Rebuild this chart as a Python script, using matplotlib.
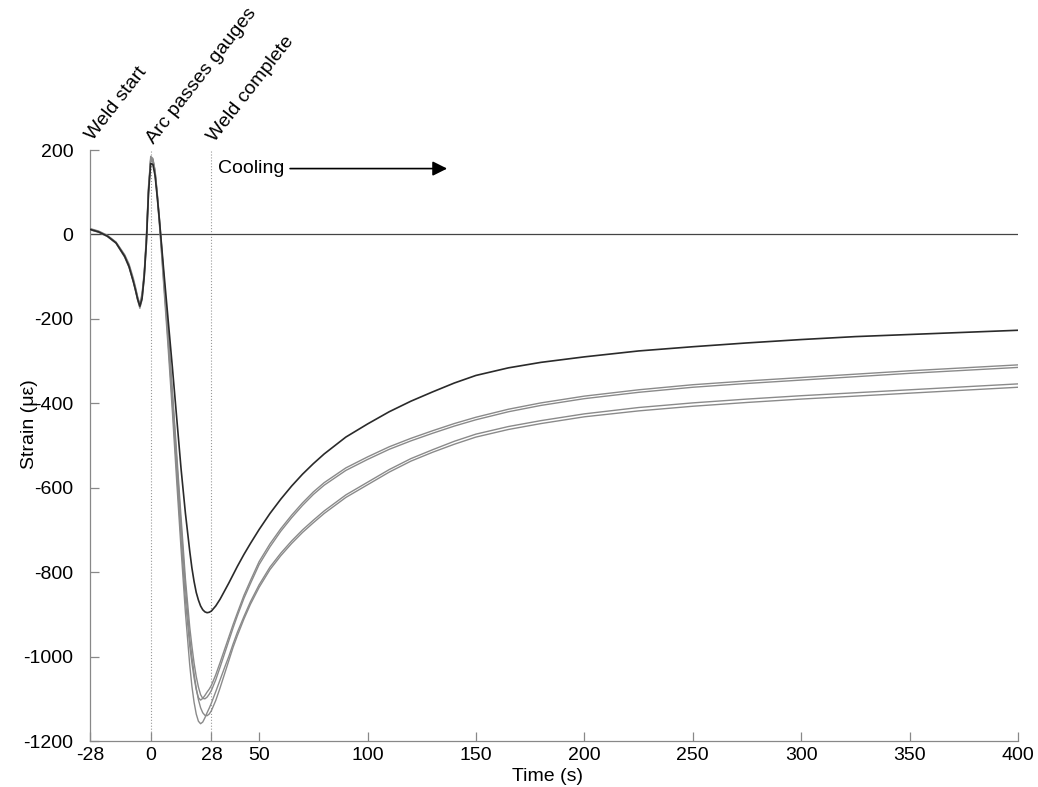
import matplotlib
matplotlib.use("Agg")
import matplotlib.pyplot as plt

plt.rcParams['font.family'] = ['Liberation Sans', 'DejaVu Sans']
plt.rcParams['axes.unicode_minus'] = False

time_s = [-28, -24, -20, -16, -12, -10, -8, -7, -6, -5, -4, -3, -2, -1, 0, 1, 2, 3, 4, 5, 6,
          8, 10, 12, 14, 16, 18, 19, 20, 21, 22, 23, 24, 25, 26, 27, 28,
          30, 32, 34, 36, 38, 40, 43, 46, 50, 55, 60, 65, 70, 75, 80, 90, 100,
          110, 120, 130, 140, 150, 165, 180, 200, 225, 250, 275, 300, 325, 350, 375, 400]

gauge_dark = [12, 6, -4, -20, -52, -76, -112, -132, -154, -170, -152, -100, -20, 100, 168, 166, 140, 90, 35, -25, -85,
              -200, -315, -435, -555, -660, -750, -790, -822, -848, -866, -880, -889, -894, -896, -895, -892,
              -880, -864, -845, -826, -806, -786, -758, -732, -699, -661, -627, -596, -568, -543, -520, -480, -449,
              -420, -395, -373, -352, -334, -316, -303, -290, -276, -266, -257, -249, -242, -237, -232, -227]

gauge_a = [13, 7, -3, -19, -50, -73, -108, -128, -150, -168, -145, -95, -10, 110, 185, 180, 150, 95, 30, -40, -110,
           -250, -400, -560, -720, -865, -975, -1015, -1050, -1078, -1097, -1103, -1099, -1092, -1084, -1077, -1068,
           -1043, -1014, -984, -954, -924, -896, -855, -820, -775, -733, -697, -665, -636, -610, -588, -553, -527,
           -503, -483, -465, -448, -433, -414, -399, -383, -368, -356, -347, -339, -331, -323, -316, -309]

gauge_b = [11, 5, -5, -21, -54, -78, -113, -134, -156, -175, -155, -105, -25, 95, 180, 178, 152, 100, 40, -25, -95,
           -230, -370, -520, -670, -815, -930, -975, -1015, -1047, -1072, -1090, -1099, -1100, -1096, -1089, -1080,
           -1055, -1025, -994, -963, -932, -903, -862, -827, -782, -740, -703, -671, -642, -616, -594, -559, -533,
           -509, -489, -471, -454, -439, -420, -405, -389, -374, -362, -353, -345, -337, -329, -322, -315]

gauge_c = [12, 6, -4, -20, -52, -75, -110, -131, -154, -170, -148, -98, -15, 105, 178, 176, 148, 96, 35, -30, -100,
           -235, -380, -535, -690, -835, -955, -1000, -1040, -1075, -1102, -1121, -1133, -1139, -1140, -1136, -1128,
           -1104, -1074, -1042, -1010, -978, -950, -911, -876, -836, -794, -761, -732, -706, -683, -661, -623, -593,
           -563, -537, -516, -497, -480, -462, -448, -432, -418, -407, -398, -390, -383, -376, -369, -362]

gauge_d = [14, 8, -2, -18, -48, -70, -104, -125, -148, -165, -140, -90, -5, 115, 175, 172, 142, 88, 25, -45, -120,
           -265, -420, -585, -745, -895, -1020, -1070, -1108, -1136, -1153, -1159, -1155, -1145, -1133, -1122, -1110,
           -1083, -1055, -1027, -1000, -970, -942, -905, -870, -830, -788, -755, -726, -700, -677, -655, -617, -587,
           -557, -531, -510, -490, -473, -455, -441, -425, -410, -399, -390, -382, -375, -368, -361, -354]

x_ticks = [-28, 0, 28, 50, 100, 150, 200, 250, 300, 350, 400]
y_ticks = [-1200, -1000, -800, -600, -400, -200, 0, 200]
events = [(-28, "Weld start"), (0, "Arc passes gauges"), (28, "Weld complete")]

FS = 14

fig = plt.figure(figsize=(10.38, 7.87), dpi=100)
ax = fig.add_axes([0.0867, 0.0584, 0.8940, 0.7510])

grey = '#8a8a8a'
for series in (gauge_a, gauge_b, gauge_c, gauge_d):
    ax.plot(time_s, series, color=grey, lw=1.0, zorder=3)
ax.plot(time_s, gauge_dark, color='#2a2a2a', lw=1.2, zorder=4)

ax.axhline(0, color='#444444', lw=0.9, zorder=2)
for t in (0, 28):
    ax.plot([t, t], [-1200, 200], color='#999999', lw=0.8, ls=':', zorder=1)

ax.set_xlim(-28, 400)
ax.set_ylim(-1200, 200)
ax.set_xticks(x_ticks)
ax.set_yticks(y_ticks)
ax.tick_params(direction='in', length=6.5, width=0.9, color='#888888', labelsize=FS)
ax.tick_params(axis='y', pad=12)
ax.tick_params(axis='x', pad=4)
for side in ('top', 'right'):
    ax.spines[side].set_visible(False)
for side in ('left', 'bottom'):
    ax.spines[side].set_color('#888888')
    ax.spines[side].set_linewidth(0.9)

ax.set_xlabel("Time (s)", fontsize=FS)
ax.xaxis.set_label_coords(0.4925, -0.046)
ax.set_ylabel("Strain (\u03bc\u03b5)", fontsize=FS)
ax.yaxis.set_label_coords(-0.056, 0.536)

label_offsets = {-28: (1.5, 222), 0: (1.5, 214), 28: (1.8, 218)}
for t, txt in events:
    dx, y = label_offsets[t]
    ax.text(t + dx, y, txt, rotation=52, rotation_mode='anchor', ha='left', va='baseline',
            fontsize=FS, clip_on=False)

ax.text(31, 156, "Cooling", fontsize=FS, ha='left', va='center')
ax.annotate("", xy=(138, 156), xytext=(63, 156),
            arrowprops=dict(arrowstyle='-|>', color='black', lw=1.2, mutation_scale=22))

fig.savefig("out.png", dpi=100)
